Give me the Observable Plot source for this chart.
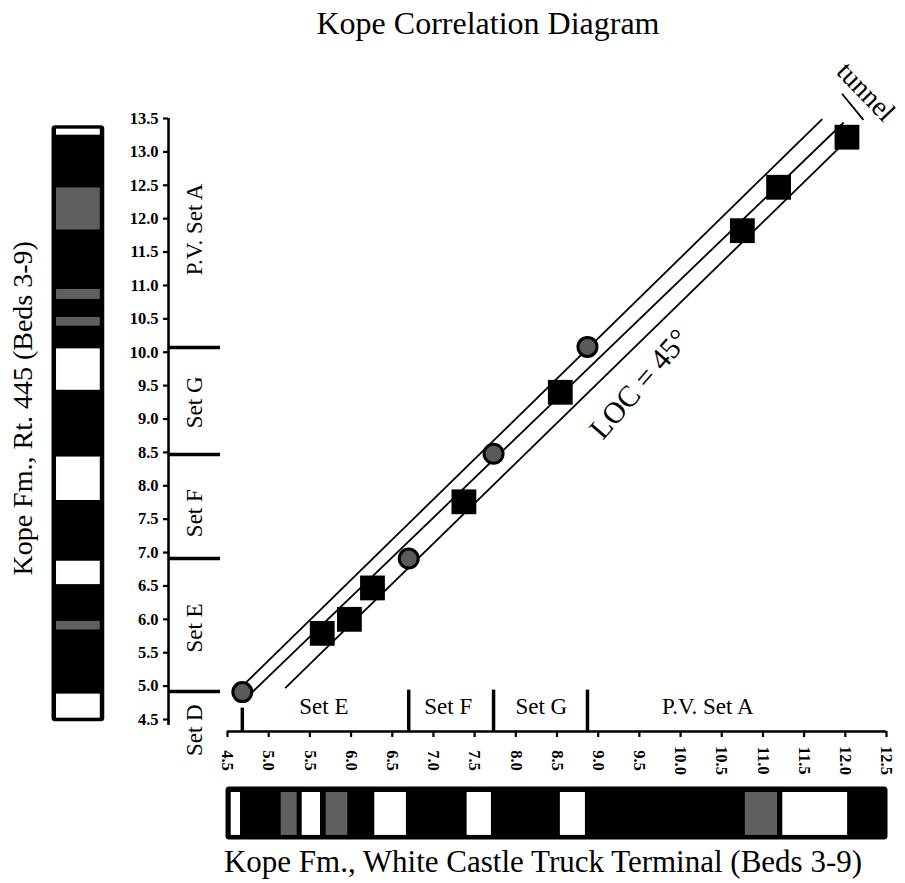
<!DOCTYPE html>
<html><head><meta charset="utf-8">
<script src="https://cdn.jsdelivr.net/npm/d3@7"></script>
<script src="https://cdn.jsdelivr.net/npm/@observablehq/plot@0.6"></script>
<style>
html,body{margin:0;padding:0;background:#fff;overflow:hidden}
#wrap{width:905px;height:883px;font-family:'Liberation Serif','Times New Roman',serif;color:#000}
.title{height:46px;line-height:46px;font-size:32px;text-align:center;padding-left:71px;box-sizing:border-box;white-space:nowrap}
.caption{height:43px;line-height:43px;font-size:31px;text-align:center;padding-left:181px;box-sizing:border-box;white-space:nowrap}
#chart svg g[aria-label="y-axis tick label"] text{font-weight:bold}
</style></head><body>
<div id="wrap">
<div class="title">Kope Correlation Diagram</div>
<div id="chart"></div>
<div class="caption">Kope Fm., White Castle Truck Terminal (Beds 3-9)</div>
</div>
<script>
// ---- tick values ----
const xTicks = [4.5,5.0,5.5,6.0,6.5,7.0,7.5,8.0,8.5,9.0,9.5,10.0,10.5,11.0,11.5,12.0,12.5];
const yTicks = [4.5,5.0,5.5,6.0,6.5,7.0,7.5,8.0,8.5,9.0,9.5,10.0,10.5,11.0,11.5,12.0,12.5,13.0,13.5];

// ---- correlation points ----
const squareX = [5.65, 5.98, 6.26, 7.37, 8.54, 10.75, 11.19, 12.02];
const squareY = [5.79, 6.00, 6.47, 7.76, 9.40, 11.82, 12.47, 13.22];
const circleX = [4.68, 6.70, 7.73, 8.87];
const circleY = [4.91, 6.91, 8.48, 10.08];

// ---- line of correlation and tunnel bounds ----
const lineX1 = [4.73, 4.80, 5.20];
const lineY1 = [5.06, 4.91, 4.97];
const lineX2 = [11.72, 11.98, 11.94];
const lineY2 = [13.49, 13.44, 13.08];
const tunnelMarkX = [11.96, 12.22];
const tunnelMarkY = [13.87, 13.48];

// ---- set boundaries and labels ----
const xSetBounds = [4.68, 6.70, 7.73, 8.87];
const ySetBounds = [4.92, 6.91, 8.47, 10.07];
const xSetNames = ["Set E", "Set F", "Set G", "P.V. Set A"];
const xSetCenters = [5.67, 7.18, 8.31, 10.33];
const ySetNames = ["P.V. Set A", "Set G", "Set F", "Set E", "Set D"];
const ySetCenters = [11.84, 9.25, 7.59, 5.87, 4.34];

// ---- stratigraphic columns ----
const bottomWhite = [[4.545,4.658],[5.407,5.629],[6.288,6.672],[7.409,7.704],[8.541,8.845],[11.241,12.028]];
const bottomGray  = [[5.152,5.346],[5.698,5.960],[10.786,11.178]];
const leftWhite = [[13.25,13.34],[9.43,10.05],[7.78,8.43],[6.52,6.87],[4.52,4.88]];
const leftGray  = [[11.83,12.46],[10.79,10.94],[10.39,10.52],[5.84,5.97]];

// ---- annotations ----
const annText = ["LOC = 45°", "tunnel"];
const annX = [9.50, 12.25];
const annY = [9.52, 13.90];
const annAngle = [-49, 46];
const annSize = [30, 28];
const yTitle = "Kope Fm., Rt. 445 (Beds 3-9)";

// ---- layout (in data units) ----
const xDomain = [4.5, 12.5];
const yDomain = [4.5, 13.5];
const yAxisAt = 3.784, yAxisSpan = [4.41, 13.5];
const xAxisAt = 4.32;
const ySepEnd = 4.415, xSepTop = 4.94, xSepFirstTop = 4.67;
const ySetLabelX = 4.10, xSetLabelY = 4.70;
const leftStripX = [2.388, 2.992], leftStripY = [4.49, 13.37];
const bottomStripY = [2.719, 3.467];
const yTitlePos = [2.012, 9.16];

const serif = "'Liberation Serif','Times New Roman',serif";
const fmt = d => d.toFixed(1);

const squares = squareX.map((x, i) => ({x, y: squareY[i]}));
const circles = circleX.map((x, i) => ({x, y: circleY[i]}));
const lines = lineX1.map((x1, i) => ({x1, y1: lineY1[i], x2: lineX2[i], y2: lineY2[i]}));
const tunnelMark = [{x1: tunnelMarkX[0], y1: tunnelMarkY[0], x2: tunnelMarkX[1], y2: tunnelMarkY[1]}];
const ann = annText.map((t, i) => ({t, x: annX[i], y: annY[i], a: annAngle[i], s: annSize[i]}));

const chart = Plot.plot({
  width: 905, height: 794,
  marginLeft: 168, marginRight: 19, marginTop: 72, marginBottom: 109,
  x: {domain: xDomain, range: [227, 886]},
  y: {domain: yDomain, range: [673, 72]},
  style: {fontFamily: serif, background: "transparent", overflow: "visible", color: "black"},
  marks: [
    // left column
    Plot.rect([leftStripY], {x1: leftStripX[0], x2: leftStripX[1], y1: d => d[0], y2: d => d[1], fill: "black", stroke: "black", strokeWidth: 3, rx: 2}),
    Plot.rect(leftWhite, {x1: leftStripX[0], x2: leftStripX[1], y1: d => d[0], y2: d => d[1], fill: "white", insetLeft: 3, insetRight: 3}),
    Plot.rect(leftGray, {x1: leftStripX[0], x2: leftStripX[1], y1: d => d[0], y2: d => d[1], fill: "#5f5f5f", insetLeft: 3, insetRight: 3}),
    // bottom column
    Plot.rect([xDomain], {x1: d => d[0], x2: d => d[1], y1: bottomStripY[0], y2: bottomStripY[1], fill: "black", stroke: "black", strokeWidth: 3, rx: 2}),
    Plot.rect(bottomWhite, {x1: d => d[0], x2: d => d[1], y1: bottomStripY[0], y2: bottomStripY[1], fill: "white", insetTop: 4, insetBottom: 3}),
    Plot.rect(bottomGray, {x1: d => d[0], x2: d => d[1], y1: bottomStripY[0], y2: bottomStripY[1], fill: "#5f5f5f", insetTop: 4, insetBottom: 3}),
    // axes
    Plot.ruleX([yAxisAt], {y1: yAxisSpan[0], y2: yAxisSpan[1], strokeWidth: 2.6}),
    Plot.ruleY([xAxisAt], {x1: xDomain[0], x2: xDomain[1], strokeWidth: 2.6}),
    Plot.axisY(yTicks, {anchor: "left", tickSize: 5, tickPadding: 5, tickFormat: fmt, fontSize: 16.5, fontWeight: "bold", fontFamily: serif, strokeWidth: 2.2, label: null}),
    Plot.axisX(xTicks, {anchor: "bottom", tickSize: 6, tickFormat: () => "", strokeWidth: 2.2, label: null}),
    Plot.text(xTicks, {x: d => d, y: xAxisAt, text: fmt, rotate: 90, dy: 29, textAnchor: "middle", fontSize: 16.5, fontWeight: "bold", fontFamily: serif}),
    // set separators
    Plot.ruleY(ySetBounds, {x1: yAxisAt, x2: ySepEnd, strokeWidth: 3.5}),
    Plot.ruleX(xSetBounds.slice(1), {y1: xAxisAt, y2: xSepTop, strokeWidth: 3.5}),
    Plot.ruleX(xSetBounds.slice(0, 1), {y1: xAxisAt, y2: xSepFirstTop, strokeWidth: 3.5}),
    Plot.text(ySetNames, {x: ySetLabelX, y: (d, i) => ySetCenters[i], text: d => d, rotate: -90, fontSize: 23, fontFamily: serif}),
    Plot.text(xSetNames, {x: (d, i) => xSetCenters[i], y: xSetLabelY, text: d => d, fontSize: 23, fontFamily: serif}),
    // tunnel lines
    Plot.link(lines, {x1: "x1", y1: "y1", x2: "x2", y2: "y2", stroke: "black", strokeWidth: 1.8}),
    Plot.link(tunnelMark, {x1: "x1", y1: "y1", x2: "x2", y2: "y2", stroke: "black", strokeWidth: 1.8}),
    // points
    Plot.dot(squares, {x: "x", y: "y", symbol: "square", r: 14, fill: "black", stroke: "none"}),
    Plot.dot(circles, {x: "x", y: "y", r: 9.5, fill: "#5a5a5a", stroke: "black", strokeWidth: 3}),
    // annotations
    Plot.text(ann.slice(0, 1), {x: "x", y: "y", text: "t", rotate: "a", fontSize: annSize[0], fontFamily: serif}),
    Plot.text(ann.slice(1), {x: "x", y: "y", text: "t", rotate: "a", fontSize: annSize[1], fontFamily: serif}),
    Plot.text([yTitle], {x: yTitlePos[0], y: yTitlePos[1], text: d => d, rotate: -90, fontSize: 28, fontFamily: serif})
  ]
});
document.getElementById("chart").appendChild(chart);
</script>
</body></html>
